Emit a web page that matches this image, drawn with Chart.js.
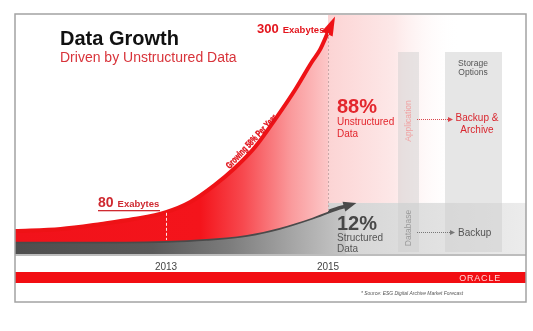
<!DOCTYPE html>
<html><head><meta charset="utf-8">
<script src="https://cdn.jsdelivr.net/npm/chart.js@4.4.1/dist/chart.umd.min.js"></script>
<style>html,body{margin:0;padding:0;background:#fff;}canvas{display:block;}</style>
</head><body>
<canvas id="c" width="533" height="331"></canvas>
<script>
// Unstructured data growth curve (red), year -> relative height
const unstructuredYears  = [2011.136, 2011.7, 2012.2, 2012.6, 2013.0, 2013.3, 2013.6, 2013.85, 2014.1, 2014.35, 2014.6, 2014.8, 2014.9, 2015.0];
const unstructuredValues = [9.96, 10.8, 12.9, 14.9, 17.8, 22.0, 29.0, 36.1, 44.8, 56.4, 68.9, 80.1, 85.1, 92.5];
// Structured data curve (gray)
const structuredYears  = [2011.136, 2012.0, 2013.0, 2013.5, 2014.0, 2014.4, 2014.8, 2015.1, 2015.22];
const structuredValues = [5.5, 5.5, 5.8, 6.6, 8.3, 11.2, 15.4, 19.1, 20.3];
// Tick labels
const tickYears  = [2013, 2015];
const tickLabels = ['2013', '2015'];
// Annotations
const volumeLabels = ['80', '300'];   // Exabytes at 2013 / 2015
const shareLabels  = ['88%', '12%'];  // unstructured / structured

const FONT = '"Liberation Sans", Arial, sans-serif';

function redFill(ctx) {
  const c = ctx.chart.ctx;
  const g = c.createLinearGradient(15, 0, 340, 0);
  g.addColorStop(0, '#f1121a');
  g.addColorStop(0.57, '#f4141b');
  g.addColorStop(0.70, '#f7484e');
  g.addColorStop(0.85, '#fa9a9c');
  g.addColorStop(1, '#fdd6d6');
  return g;
}
function grayFill(ctx) {
  const c = ctx.chart.ctx;
  const g = c.createLinearGradient(15, 0, 360, 0);
  g.addColorStop(0, '#4e4e4e');
  g.addColorStop(0.4, '#5a5a5a');
  g.addColorStop(0.62, '#7c7c7c');
  g.addColorStop(0.82, '#a9a9a9');
  g.addColorStop(1, '#d0d0d0');
  return g;
}

function arrowHead(ctx, prev, base, len, width, color) {
  let dx = base.x - prev.x, dy = base.y - prev.y;
  const d = Math.hypot(dx, dy); dx /= d; dy /= d;
  const bx = base.x - dx * 2, by = base.y - dy * 2;
  const tx = base.x + dx * len, ty = base.y + dy * len;
  const px = -dy, py = dx;
  ctx.beginPath();
  ctx.moveTo(tx, ty);
  ctx.lineTo(bx + px * width / 2, by + py * width / 2);
  ctx.lineTo(bx - px * width / 2, by - py * width / 2);
  ctx.closePath();
  ctx.fillStyle = color;
  ctx.fill();
}

function dottedArrow(ctx, x1, x2, y, color) {
  ctx.save();
  ctx.strokeStyle = color; ctx.lineWidth = 1;
  ctx.setLineDash([1, 1]);
  ctx.beginPath(); ctx.moveTo(x1, y + 0.5); ctx.lineTo(x2 - 3, y + 0.5); ctx.stroke();
  ctx.setLineDash([]);
  ctx.beginPath(); ctx.moveTo(x2 + 1, y + 0.5); ctx.lineTo(x2 - 4, y - 2); ctx.lineTo(x2 - 4, y + 3); ctx.closePath();
  ctx.fillStyle = color; ctx.fill();
  ctx.restore();
}

const slidePlugin = {
  id: 'slide',
  beforeDraw(chart) {
    const ctx = chart.ctx;
    ctx.save(); ctx.fillStyle = '#fff'; ctx.fillRect(0, 0, chart.width, chart.height); ctx.restore();
  },
  beforeDatasetsDraw(chart) {
    const ctx = chart.ctx, xs = chart.scales.x, ys = chart.scales.y;
    const x15 = xs.getPixelForValue(tickYears[1]);
    const yTop = chart.chartArea.top;
    const yBand = ys.getPixelForValue(21.6);
    ctx.save();
    // pink panel right of the growth curve
    let g = ctx.createLinearGradient(x15, 0, 460, 0);
    g.addColorStop(0, 'rgba(252,212,212,1)');
    g.addColorStop(0.5, 'rgba(253,232,232,1)');
    g.addColorStop(1, 'rgba(255,255,255,0)');
    ctx.fillStyle = g;
    ctx.fillRect(x15, yTop + 1, 460 - x15, yBand - yTop - 1);
    // light gray band for structured data
    g = ctx.createLinearGradient(x15, 0, chart.chartArea.right, 0);
    g.addColorStop(0, '#d3d3d3');
    g.addColorStop(0.5, '#e0e0e0');
    g.addColorStop(1, '#ececec');
    ctx.fillStyle = g;
    ctx.fillRect(x15, yBand, chart.chartArea.right - x15, chart.chartArea.bottom - yBand);
    ctx.restore();
  },
  afterDatasetsDraw(chart) {
    const ctx = chart.ctx, xs = chart.scales.x, ys = chart.scales.y;
    const area = chart.chartArea;
    const x13 = xs.getPixelForValue(tickYears[0]);
    const x15 = xs.getPixelForValue(tickYears[1]);
    ctx.save();

    // arrow heads
    const r = chart.getDatasetMeta(0).data, s = chart.getDatasetMeta(1).data;
    arrowHead(ctx, r[r.length - 2], r[r.length - 1], 17, 12, '#ee1216');
    arrowHead(ctx, s[s.length - 2], s[s.length - 1], 11, 10, '#4a4a4a');

    // baseline line
    ctx.fillStyle = '#bdbdbd';
    ctx.fillRect(area.left, area.bottom - 1, area.right - area.left, 2);

    // dashed marker lines
    ctx.setLineDash([3, 2]);
    ctx.lineWidth = 1;
    ctx.strokeStyle = 'rgba(255,255,255,0.9)';
    ctx.beginPath(); ctx.moveTo(x13 + 0.5, ys.getPixelForValue(17.5)); ctx.lineTo(x13 + 0.5, ys.getPixelForValue(6.2)); ctx.stroke();
    ctx.strokeStyle = '#c9a6a6';
    ctx.setLineDash([2, 2]);
    ctx.beginPath(); ctx.moveTo(x15 + 0.5, 33); ctx.lineTo(x15 + 0.5, 213); ctx.stroke();
    ctx.setLineDash([]);

    // storage columns
    ctx.fillStyle = 'rgba(205,205,205,0.45)';
    ctx.fillRect(398, 52, 21, 200);
    ctx.fillStyle = 'rgba(205,205,205,0.5)';
    ctx.fillRect(445, 52, 57, 200);

    // column labels
    ctx.textAlign = 'center';
    ctx.textBaseline = 'middle';
    ctx.font = '8.5px ' + FONT;
    ctx.save(); ctx.translate(409, 121); ctx.rotate(-Math.PI / 2);
    ctx.fillStyle = '#f0a2a2'; ctx.fillText('Application', 0, 0); ctx.restore();
    ctx.save(); ctx.translate(409, 228); ctx.rotate(-Math.PI / 2);
    ctx.fillStyle = '#9a9a9a'; ctx.fillText('Database', 0, 0); ctx.restore();

    ctx.textBaseline = 'alphabetic';
    ctx.fillStyle = '#555';
    ctx.font = '8.5px ' + FONT;
    ctx.fillText('Storage', 473, 66);
    ctx.fillText('Options', 473, 75);
    ctx.fillStyle = '#d9262e';
    ctx.font = '10px ' + FONT;
    ctx.fillText('Backup &', 477, 121);
    ctx.fillText('Archive', 477, 133);
    ctx.textAlign = 'left';
    ctx.fillStyle = '#555';
    ctx.fillText('Backup', 458, 236);
    dottedArrow(ctx, 417, 452, 119, '#d9464c');
    dottedArrow(ctx, 417, 454, 232, '#777');

    // title
    ctx.fillStyle = '#111';
    ctx.font = 'bold 20px ' + FONT;
    ctx.fillText('Data Growth', 60, 45);
    ctx.fillStyle = '#d8333a';
    ctx.font = '14px ' + FONT;
    ctx.fillText('Driven by Unstructured Data', 60, 62);

    // volume labels
    ctx.fillStyle = '#cf2a31';
    ctx.font = 'bold 14px ' + FONT;
    ctx.fillText(volumeLabels[0], x13 - 68, 207);
    let w = ctx.measureText(volumeLabels[0]).width;
    ctx.font = 'bold 9.5px ' + FONT;
    ctx.fillText('Exabytes', x13 - 68 + w + 4, 207);
    ctx.fillRect(x13 - 68, 210, 62, 1.3);

    ctx.fillStyle = '#e3151d';
    ctx.font = 'bold 13px ' + FONT;
    ctx.fillText(volumeLabels[1], x15 - 71, 33);
    w = ctx.measureText(volumeLabels[1]).width;
    ctx.font = 'bold 9.5px ' + FONT;
    ctx.fillText('Exabytes', x15 - 71 + w + 4, 33);

    // growth rate along the curve
    ctx.save();
    ctx.translate(255, 145);
    ctx.rotate(-47 * Math.PI / 180);
    ctx.font = 'bold 9.5px ' + FONT;
    const gt = 'Growing 58% Per Year';
    const gw = ctx.measureText(gt).width;
    ctx.scale(70 / gw, 1);
    ctx.textAlign = 'center';
    ctx.fillStyle = '#e0121a';
    ctx.strokeStyle = '#e0121a';
    ctx.lineWidth = 0.4;
    ctx.fillText(gt, 0, -2);
    ctx.strokeText(gt, 0, -2);
    ctx.restore();

    // share labels
    ctx.textAlign = 'left';
    ctx.fillStyle = '#e3262d';
    ctx.font = 'bold 20px ' + FONT;
    ctx.fillText(shareLabels[0], 337, 113);
    ctx.font = '10px ' + FONT;
    ctx.fillText('Unstructured', 337, 125);
    ctx.fillText('Data', 337, 137);
    ctx.fillStyle = '#474747';
    ctx.font = 'bold 20px ' + FONT;
    ctx.fillText(shareLabels[1], 337, 230);
    ctx.fillStyle = '#555';
    ctx.font = '10px ' + FONT;
    ctx.fillText('Structured', 337, 241);
    ctx.fillText('Data', 337, 252);

    // year tick labels
    ctx.textAlign = 'center';
    ctx.fillStyle = '#444';
    ctx.font = '10px ' + FONT;
    tickYears.forEach((yr, i) => ctx.fillText(tickLabels[i], xs.getPixelForValue(yr), 270));

    // footer bar
    ctx.fillStyle = '#f20d12';
    ctx.fillRect(area.left, 272, area.right - area.left, 11);
    ctx.fillStyle = '#ffd9d9';
    ctx.textAlign = 'right';
    ctx.font = '9px ' + FONT;
    if ('letterSpacing' in ctx) ctx.letterSpacing = '0.8px';
    ctx.fillText('ORACLE', 501, 281);
    if ('letterSpacing' in ctx) ctx.letterSpacing = '0px';
    ctx.textAlign = 'left';
    ctx.fillStyle = '#555';
    ctx.font = 'italic 5px ' + FONT;
    const st = '* Source: ESG Digital Archive Market Forecast';
    const sw = ctx.measureText(st).width;
    ctx.save(); ctx.translate(361, 295); ctx.scale(102 / sw, 1); ctx.fillText(st, 0, 0); ctx.restore();

    // frame
    ctx.strokeStyle = '#a3a3a3';
    ctx.lineWidth = 1.5;
    ctx.strokeRect(15, 14, 511, 288);
    ctx.restore();
  }
};

new Chart(document.getElementById('c'), {
  type: 'line',
  data: {
    datasets: [
      {
        label: 'Unstructured',
        data: unstructuredYears.map((x, i) => ({ x, y: unstructuredValues[i] })),
        borderColor: '#ee1216',
        borderWidth: 4,
        backgroundColor: redFill,
        fill: '+1',
        pointRadius: 0,
        cubicInterpolationMode: 'monotone'
      },
      {
        label: 'Structured',
        data: structuredYears.map((x, i) => ({ x, y: structuredValues[i] })),
        borderColor: '#4a4a4a',
        borderWidth: 3.5,
        backgroundColor: grayFill,
        fill: 'origin',
        pointRadius: 0,
        cubicInterpolationMode: 'monotone'
      }
    ]
  },
  options: {
    responsive: false,
    animation: false,
    devicePixelRatio: 1,
    layout: { padding: { left: 15, right: 7, top: 14, bottom: 76 } },
    plugins: { legend: { display: false }, tooltip: { enabled: false } },
    scales: {
      x: { type: 'linear', min: 2011.136, max: 2017.444, display: false },
      y: { min: 0, max: 100, display: false }
    }
  },
  plugins: [slidePlugin]
});
</script>
</body></html>
